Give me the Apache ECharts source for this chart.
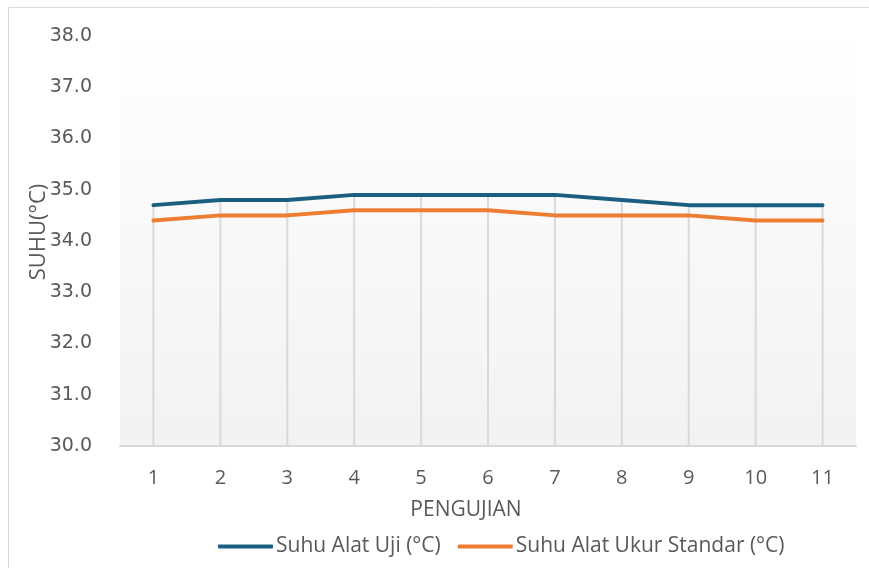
<!DOCTYPE html>
<html><head><meta charset="utf-8">
<script src="https://cdn.jsdelivr.net/npm/echarts@6/dist/echarts.min.js"></script>
<style>html,body{margin:0;padding:0;background:#fff}#c{width:869px;height:568px}</style>
</head><body><div id="c"></div>
<script>
var categories = ['1','2','3','4','5','6','7','8','9','10','11'];
var suhuAlatUji = [34.7, 34.8, 34.8, 34.9, 34.9, 34.9, 34.9, 34.8, 34.7, 34.7, 34.7];
var suhuAlatUkurStandar = [34.4, 34.5, 34.5, 34.6, 34.6, 34.6, 34.5, 34.5, 34.5, 34.4, 34.4];
var yMin = 30, yMax = 38, yStep = 1;
var seriesNames = ['Suhu Alat Uji (\u00B0C)', 'Suhu Alat Ukur Standar (\u00B0C)'];

var dropTops = suhuAlatUji.map(function(v, i){ return Math.max(v, suhuAlatUkurStandar[i]); });

var chart = echarts.init(document.getElementById('c'));
chart.setOption({
  animation: false,
  backgroundColor: '#ffffff',
  graphic: [{
    type: 'rect', shape: {x: 8.5, y: 7.5, width: 870, height: 570},
    style: {fill: 'none', stroke: '#d9d9d9', lineWidth: 1}, silent: true
  }],
  grid: {
    left: 120, right: 13, top: 36, bottom: 122,
    show: true, borderWidth: 0,
    backgroundColor: new echarts.graphic.LinearGradient(0, 0, 0, 1, [
      {offset: 0, color: '#ffffff'}, {offset: 1, color: '#f2f2f2'}
    ])
  },
  legend: {
    data: seriesNames,
    left: 213, top: 531,
    itemWidth: 55, itemHeight: 4, itemGap: 17,
    textStyle: {fontFamily: 'Open Sans', fontSize: 21, color: '#595959', padding: [0,0,0,-2]},
    icon: 'roundRect'
  },
  xAxis: {
    type: 'category', data: categories, boundaryGap: true,
    name: 'PENGUJIAN', nameLocation: 'middle', nameGap: 54, nameMoveOverlap: false,
    nameTextStyle: {fontFamily: 'Open Sans', fontSize: 21, color: '#595959', padding: [0, 44, 0, 0]},
    axisLine: {show: true, lineStyle: {color: '#d9d9d9', width: 2}},
    axisTick: {show: false},
    axisLabel: {fontFamily: 'Open Sans', fontSize: 20, color: '#595959', margin: 22},
    splitLine: {show: false}
  },
  yAxis: {
    type: 'value', min: yMin, max: yMax, interval: yStep,
    name: 'SUHU(\u00B0C)', nameLocation: 'middle', nameGap: 70, nameMoveOverlap: false,
    nameTextStyle: {fontFamily: 'Open Sans', fontSize: 22, color: '#595959', padding: [0, 0, 0, 18]},
    axisLine: {show: false}, axisTick: {show: false},
    axisLabel: {fontFamily: 'DejaVu Sans', fontSize: 19, color: '#595959', margin: 28,
      formatter: function(v){ return v.toFixed(1); }},
    splitLine: {show: false}
  },
  series: [
    {
      name: 'drop', type: 'bar', data: dropTops, barWidth: 2, barGap: '-100%',
      itemStyle: {color: '#d9d9d9'}, silent: true, z: 1
    },
    {
      name: seriesNames[0], type: 'line', data: suhuAlatUji,
      showSymbol: false, symbol: 'none',
      lineStyle: {color: '#1a5e80', width: 4, cap: 'round'},
      itemStyle: {color: '#1a5e80'}, z: 3
    },
    {
      name: seriesNames[1], type: 'line', data: suhuAlatUkurStandar,
      showSymbol: false, symbol: 'none',
      lineStyle: {color: '#ed7d31', width: 4, cap: 'round'},
      itemStyle: {color: '#ed7d31'}, z: 3
    }
  ]
});
</script></body></html>
